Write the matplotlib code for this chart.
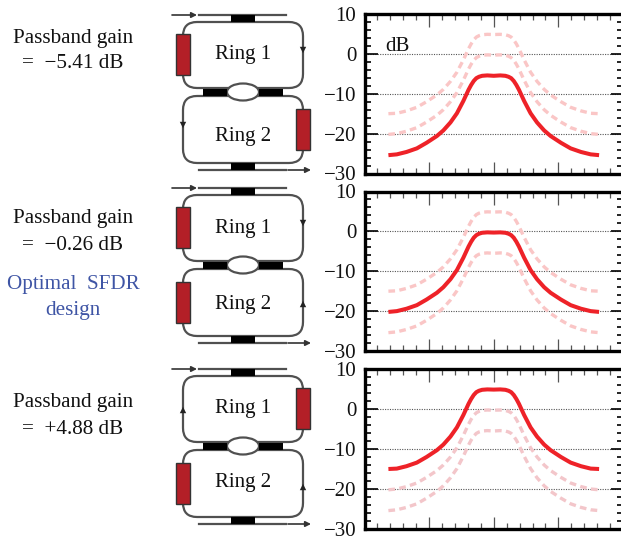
"""Three gain settings of a two-ring filter: schematic on the left, response on the right."""
import matplotlib
matplotlib.use("Agg")
import matplotlib.pyplot as plt
from matplotlib.patches import Rectangle, FancyBboxPatch, Ellipse
from matplotlib.ticker import MultipleLocator

plt.rcParams["font.family"] = ["Liberation Serif", "DejaVu Serif"]

W, H = 621, 540
freq = [-1.63, -1.5, -1.35, -1.19, -1.04, -0.88, -0.78, -0.67, -0.57, -0.47, -0.39, -0.35, -0.31, -0.27, -0.23, -0.18, -0.1, 0.0,
        0.1, 0.18, 0.23, 0.27, 0.31, 0.35, 0.39, 0.47, 0.57, 0.67, 0.78, 0.88, 1.04, 1.19, 1.35, 1.5, 1.63]
# response with the lowest, middle and highest passband gain (dB)
resp_low = [-25.4, -25.2, -24.6, -23.7, -22.3, -20.6, -19.2, -17.2, -14.9, -11.8, -9.0, -7.8, -6.8, -6.1, -5.75, -5.5, -5.4, -5.5,
            -5.4, -5.5, -5.75, -6.1, -6.8, -7.8, -9.0, -11.8, -14.9, -17.2, -19.2, -20.6, -22.3, -23.7, -24.6, -25.2, -25.4]
resp_mid = [-20.2, -20.0, -19.4, -18.5, -17.1, -15.4, -14.0, -12.0, -9.7, -6.6, -3.8, -2.6, -1.6, -0.95, -0.6, -0.35, -0.25, -0.3,
            -0.25, -0.35, -0.6, -0.95, -1.6, -2.6, -3.8, -6.6, -9.7, -12.0, -14.0, -15.4, -17.1, -18.5, -19.4, -20.0, -20.2]
resp_high = [-15.0, -14.9, -14.3, -13.4, -12.0, -10.3, -8.9, -6.9, -4.6, -1.5, 1.3, 2.5, 3.5, 4.2, 4.55, 4.8, 4.9, 4.85,
             4.9, 4.8, 4.55, 4.2, 3.5, 2.5, 1.3, -1.5, -4.6, -6.9, -8.9, -10.3, -12.0, -13.4, -14.3, -14.9, -15.0]

solid_series = [resp_low, resp_mid, resp_high]
faint_series = [[resp_mid, resp_high], [resp_low, resp_high], [resp_low, resp_mid]]
faint_cols = ["#fac6c6", "#fac6c6", "#f3c6ca"]
yticks = [-30, -20, -10, 0, 10]
ytick_labels = ["−30", "−20", "−10", "0", "10"]
axes_top = [14, 191.5, 369]
axes_bot = [173.5, 351, 529]

RED = "#ee2228"
INK = "#111111"
fig = plt.figure(figsize=(W / 100, H / 100), dpi=100)

# ---- response panels ----
for i in range(3):
    ax = fig.add_axes([364.5 / W, 1 - axes_bot[i] / H, (623 - 364.5) / W, (axes_bot[i] - axes_top[i]) / H])
    ax.set_xlim(-2, 2); ax.set_ylim(-30, 10)
    for yv in [0, -10, -20]:
        ax.axhline(yv, color="#555555", lw=0.8, ls=(0, (1, 1.2)), zorder=1)
    for f in faint_series[i]:
        ax.plot(freq, f, color=faint_cols[i], lw=2.4, ls=(0, (2.0, 1.3)), zorder=2)
    ax.plot(freq, solid_series[i], color=RED, lw=2.9, zorder=3, solid_capstyle="butt")
    ax.xaxis.set_major_locator(MultipleLocator(1)); ax.xaxis.set_minor_locator(MultipleLocator(0.2))
    ax.yaxis.set_minor_locator(MultipleLocator(2))
    ax.set_yticks(yticks); ax.set_yticklabels(ytick_labels, fontsize=15, color=INK)
    ax.set_xticklabels([])
    ax.tick_params(axis="x", which="major", direction="in", top=True, length=9, width=0.9, color="#555555")
    ax.tick_params(axis="x", which="minor", direction="in", top=True, length=4.5, width=0.9, color="#555555")
    ax.tick_params(axis="y", which="major", direction="in", right=True, length=9, width=1.2, pad=6)
    ax.tick_params(axis="y", which="minor", direction="in", right=True, length=4.5, width=1.2)
    for s in ax.spines.values():
        s.set_linewidth(2.4)
    if i == 0:
        ax.text(-1.68, 0.6, "dB", fontsize=15, color=INK, va="baseline")

# ---- schematics and text, drawn in pixel coordinates ----
ov = fig.add_axes([0, 0, 1, 1], zorder=5)
ov.set_xlim(0, W); ov.set_ylim(H, 0); ov.axis("off")
GREY = "#505050"

def tri(x, y, up):
    d = -1 if up else 1
    ov.fill([x - 3.2, x + 3.2, x], [y - 3.2 * d, y - 3.2 * d, y + 3.2 * d], color="#222222", lw=0, zorder=6)

def schematic(dy, heat1, heat2, arrow1, arrow2, ring1_y, ring2_y):
    # rings
    for top, bot in [(22, 88), (96, 163)]:
        ov.add_patch(FancyBboxPatch((183 + 14, top + dy + 14), 120 - 28, bot - top - 28,
                                    boxstyle="round,pad=14,rounding_size=14", fc="none", ec=GREY, lw=1.6))
    # bus lines with their input and output arrows
    ov.plot([199, 286], [15 + dy, 15 + dy], color=GREY, lw=1.6)
    ov.plot([199, 286], [170 + dy, 170 + dy], color=GREY, lw=1.6)
    ov.annotate("", (197, 15 + dy), (172, 15 + dy), arrowprops=dict(arrowstyle="-|>", color="#333333", lw=1.2, mutation_scale=8, shrinkA=0, shrinkB=0))
    ov.annotate("", (311, 170 + dy), (288, 170 + dy), arrowprops=dict(arrowstyle="-|>", color="#333333", lw=1.2, mutation_scale=8, shrinkA=0, shrinkB=0))
    # couplers
    ov.add_patch(Ellipse((243, 92 + dy), 32, 17, fc="white", ec=GREY, lw=1.6, zorder=3))
    for x0, x1, y0, y1 in [(231, 255, 15, 21.5), (203, 227, 89, 96), (259, 283, 89, 96), (231, 255, 163, 170)]:
        ov.add_patch(Rectangle((x0, y0 + dy), x1 - x0, y1 - y0, fc="black", ec="none", zorder=4))
    # heaters
    for side, y0 in [(heat1, 34), (heat2, 109)]:
        x0 = 176 if side == "l" else 295.5
        ov.add_patch(Rectangle((x0, y0 + dy), 14, 41, fc="#b31f27", ec="#333333", lw=1, zorder=4))
    # direction markers
    tri(arrow1[0], arrow1[1] + dy, arrow1[2])
    tri(arrow2[0], arrow2[1] + dy, arrow2[2])
    ov.text(243, ring1_y, "Ring 1", fontsize=15, ha="center", va="center", color=INK)
    ov.text(243, ring2_y, "Ring 2", fontsize=15, ha="center", va="center", color=INK)

schematic(0, "l", "r", (303, 50, False), (183, 125, False), 55, 136)
schematic(173, "l", "l", (303, 50, False), (303, 131, True), 228, 304)
schematic(354, "r", "l", (183, 56, True), (303, 133, True), 409, 483)

for y, s in [(38, "Passband gain"), (64, "=\u2002−5.41 dB"), (218, "Passband gain"), (245, "=\u2002−0.26 dB"),
             (403, "Passband gain"), (429, "=\u2002+4.88 dB")]:
    ov.text(73, y, s, fontsize=15.2, ha="center", va="center", color=INK)
for y, s in [(284, "Optimal  SFDR"), (310, "design")]:
    ov.text(73, y, s, fontsize=15.2, ha="center", va="center", color="#3f55a5")

fig.savefig("out.png", dpi=100)
